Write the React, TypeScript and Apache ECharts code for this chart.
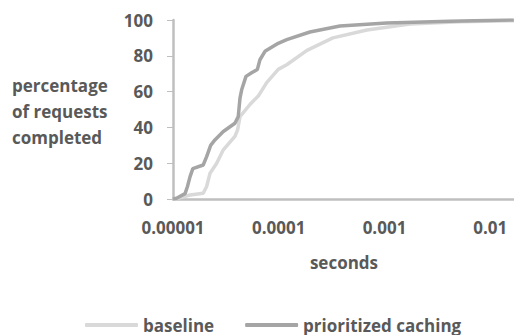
import React, { useEffect, useRef } from "react";
import * as echarts from "echarts";

const seriesNames = ["baseline", "prioritized caching"];

const baselineSeconds = [1.0e-5, 1.11e-5, 1.45e-5, 1.93e-5, 2.08e-5, 2.24e-5, 2.59e-5, 2.99e-5, 3.85e-5, 4.09e-5, 4.3e-5, 5.34e-5, 6.4e-5, 7.69e-5, 9.89e-5, 1.19e-4, 1.85e-4, 3.25e-4, 6.82e-4, 1.74e-3, 5.16e-3, 1.67e-2];
const baselinePct = [0, 0.4, 2.2, 3.2, 7, 14.4, 20, 27.5, 35, 38.8, 46, 52.8, 57.5, 65, 72.4, 75, 83, 90, 94.4, 97.8, 99, 99.6];

const prioritizedSeconds = [1.0e-5, 1.08e-5, 1.3e-5, 1.37e-5, 1.45e-5, 1.54e-5, 1.93e-5, 2.08e-5, 2.27e-5, 2.49e-5, 2.99e-5, 3.85e-5, 4.14e-5, 4.3e-5, 4.46e-5, 4.9e-5, 5.54e-5, 6.27e-5, 6.64e-5, 7.41e-5, 9.89e-5, 1.19e-4, 1.97e-4, 3.79e-4, 1.05e-3, 4.15e-3, 1.67e-2];
const prioritizedPct = [0, 0.4, 3, 7, 12.5, 17, 19, 23.7, 30, 33, 37.7, 42.3, 46, 56.4, 61, 68.5, 70.5, 72.3, 77.8, 82.5, 87, 89, 93.3, 96.6, 98.3, 99.3, 100];

const yTicks = [0, 20, 40, 60, 80, 100];
const xLabels = ["0.00001", "0.0001", "0.001", "0.01"];

const textColor = "#595959";
const axisColor = "#bfbfbf";
const font = "'Open Sans', 'Noto Sans', sans-serif";

export default function App() {
  const ref = useRef<HTMLDivElement>(null);
  useEffect(() => {
    if (!ref.current) return;
    const chart = echarts.init(ref.current, undefined, { renderer: "svg", width: 600, height: 335 });
    const zip = (xs: number[], ys: number[]) => xs.map((x, i) => [x, ys[i]]);
    chart.setOption({
      animation: false,
      textStyle: { fontFamily: font },
      grid: { left: 173, width: 423, top: 20, bottom: 136, containLabel: false },
      xAxis: {
        type: "log",
        logBase: 10,
        min: 1e-5,
        max: 0.1,
        axisLine: { show: true, lineStyle: { color: axisColor, width: 2.5 } },
        axisTick: { show: false },
        minorTick: { show: false },
        splitLine: { show: false },
        axisLabel: {
          margin: 20,
          showMaxLabel: false,
          color: textColor,
          fontWeight: "bold",
          fontSize: 17,
          fontFamily: font,
          formatter: (v: number) => {
            const i = Math.round(Math.log10(v)) + 5;
            return xLabels[i] ?? "";
          },
        },
      },
      yAxis: {
        type: "value",
        min: yTicks[0],
        max: yTicks[yTicks.length - 1],
        interval: 20,
        axisLine: { show: true, lineStyle: { color: axisColor, width: 2.5 } },
        axisTick: { show: true, length: 6, lineStyle: { color: axisColor, width: 1 } },
        splitLine: { show: false },
        axisLabel: {
          margin: 20,
          color: textColor,
          fontWeight: "bold",
          fontSize: 17,
          fontFamily: font,
        },
      },
      legend: {
        left: 85,
        top: 315,
        padding: 0,
        icon: "roundRect",
        itemWidth: 53,
        itemHeight: 4,
        itemGap: 31,
        textStyle: { color: textColor, fontWeight: "bold", fontSize: 17, lineHeight: 20, fontFamily: font },
        data: seriesNames,
      },
      graphic: [
        {
          type: "text",
          left: 12,
          top: 72,
          style: {
            text: "percentage\nof requests\ncompleted",
            fill: textColor,
            font: `bold 17px ${font}`,
            align: "center",
            lineHeight: 26,
          },
        },
        {
          type: "text",
          x: 344,
          y: 262,
          style: {
            text: "seconds",
            fill: textColor,
            font: `bold 17px ${font}`,
            align: "center",
            verticalAlign: "middle",
          },
        },
      ],
      series: [
        {
          name: seriesNames[0],
          type: "line",
          data: zip(baselineSeconds, baselinePct),
          symbol: "none",
          itemStyle: { color: "#d9d9d9" },
          lineStyle: { color: "#d9d9d9", width: 3.5 },
        },
        {
          name: seriesNames[1],
          type: "line",
          data: zip(prioritizedSeconds, prioritizedPct),
          symbol: "none",
          itemStyle: { color: "#a5a5a5" },
          lineStyle: { color: "#a5a5a5", width: 3.5 },
        },
      ],
    });
    return () => chart.dispose();
  }, []);
  return (
    <div style={{ position: "fixed", left: 0, top: 0, width: 514, height: 335, overflow: "hidden", background: "#fff" }}>
      <div ref={ref} style={{ width: 600, height: 335 }} />
    </div>
  );
}
